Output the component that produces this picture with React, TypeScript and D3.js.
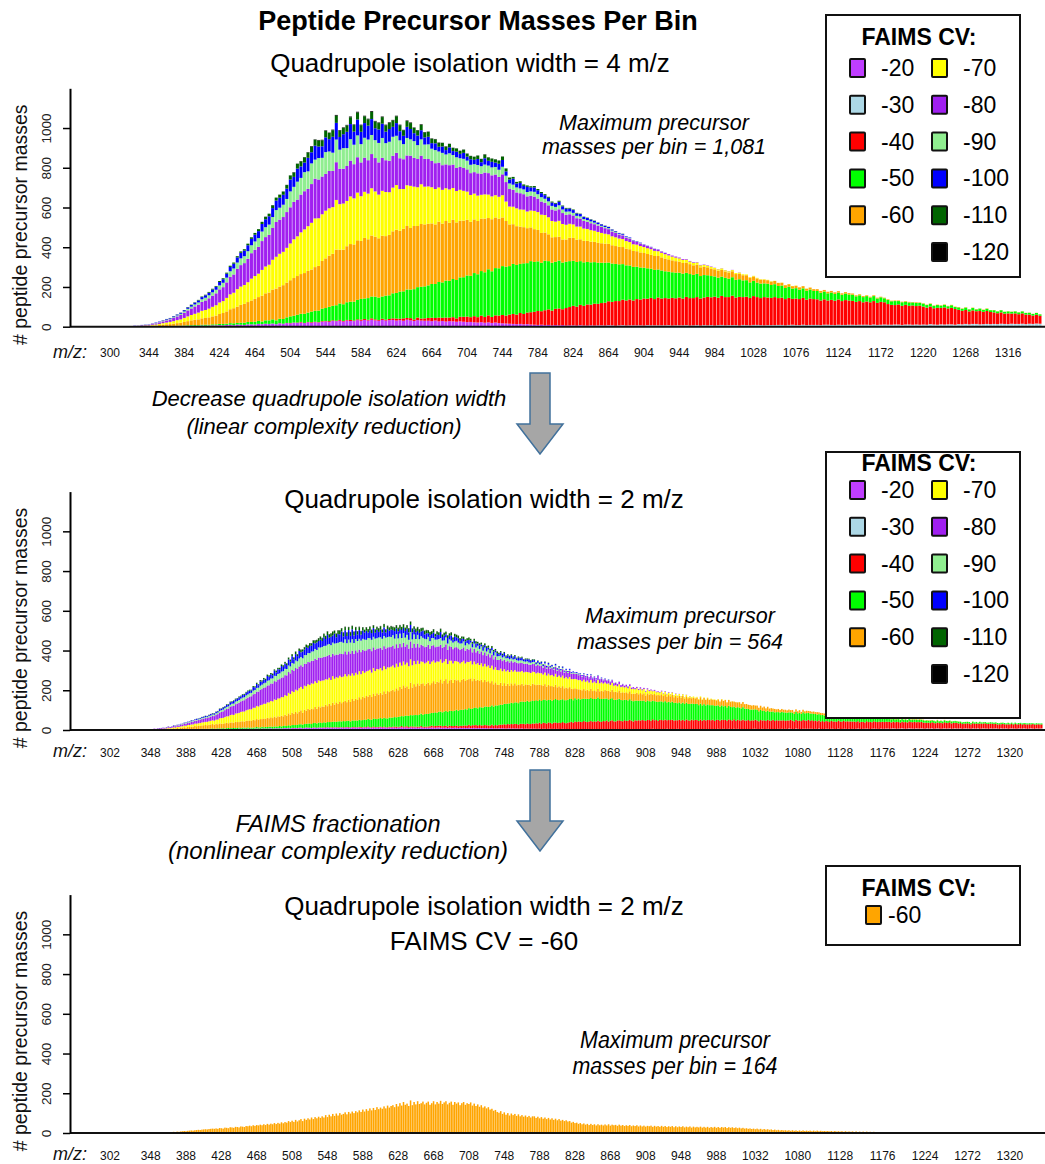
import React, { useEffect, useRef } from 'react'
import * as d3 from 'd3'

const FONT = '"Liberation Sans", Arial, Helvetica, sans-serif'

const cvLabels = ['-20', '-30', '-40', '-50', '-60', '-70', '-80', '-90', '-100', '-110', '-120']
const cvColors = ['#BF3EFF', '#ADD8E6', '#FF0000', '#00FF00', '#FFA500', '#FFFF00', '#A020F0', '#90EE90', '#0000FF', '#006400', '#000000']

// m/z bins (left edge of each bin)
const bins4 = d3.range(300, 1353, 4)
const bins2 = d3.range(302, 1357, 2)
const ticks4 = [300, 344, 384, 424, 464, 504, 544, 584, 624, 664, 704, 744, 784, 824, 864, 904, 944, 984, 1028, 1076, 1124, 1172, 1220, 1268, 1316]
const ticks2 = [302, 348, 388, 428, 468, 508, 548, 588, 628, 668, 708, 748, 788, 828, 868, 908, 948, 988, 1032, 1080, 1128, 1176, 1224, 1272, 1320]
const yTicks = [0, 200, 400, 600, 800, 1000]

// ---------- 4 m/z isolation width, one value per bin ----------
const top20 = [
  0,0,0,0,0,0,0,0,0,1,
  1,1,2,1,2,2,3,2,3,3,
  3,4,4,5,4,5,6,5,6,7,
  7,8,7,9,10,8,11,10,9,12,
  12,11,14,13,15,14,16,13,17,15,
  18,17,20,19,21,18,22,20,23,21,
  25,27,24,29,28,30,26,31,29,28,
  33,30,34,31,35,32,30,34,31,33,
  34,31,33,30,35,32,29,33,31,30,
  30,28,31,27,29,26,28,27,25,27,
  25,23,24,22,21,23,20,22,19,21,
  18,17,16,15,14,13,14,12,13,11,
  10,9,10,8,9,7,8,7,8,6,
  7,6,6,7,5,6,6,5,6,5,
  5,6,5,4,5,5,4,5,4,5,
  4,4,5,3,4,4,3,4,4,3,
  3,4,3,3,2,3,3,2,3,3,
  3,2,3,3,2,3,2,3,2,3,
  2,2,3,2,2,2,1,2,2,2,
  2,1,2,2,1,2,2,1,2,1,
  1,1,2,1,1,1,1,1,1,1,
  1,1,1,0,1,1,1,0,1,1,
  0,1,0,1,0,0,1,0,0,1,
  0,0,1,0,0,0,0,1,0,0,
  0,0,0,0,1,
]
const top30 = [
  0,0,0,0,0,0,0,0,0,0, 0,0,0,0,0,0,0,0,0,0, 0,0,0,0,0,0,0,0,0,0, 0,0,0,0,0,0,0,0,0,0,
  0,0,0,0,0,0,0,0,0,0, 0,0,0,0,0,0,0,0,0,0, 0,0,0,0,0,0,0,0,0,0, 0,0,0,0,0,0,0,0,0,0,
  0,0,0,0,0,0,0,0,0,0, 0,0,0,0,0,0,0,0,0,0, 0,0,0,0,0,0,0,0,0,0, 0,0,0,0,0,0,0,0,0,0,
  0,0,0,0,0,0,0,0,0,0,
  0,1,0,1,1,0,1,1,1,2,
  1,2,2,1,2,3,2,2,3,2,
  3,2,3,4,3,3,4,3,4,3,
  4,3,4,5,4,4,5,4,5,4,
  5,4,5,6,5,5,6,5,4,6,
  6,5,6,7,6,5,7,6,6,7,
  7,6,7,8,7,6,8,7,7,8,
  8,7,8,9,8,7,9,8,8,9,
  9,8,9,10,9,8,10,9,9,10,
  10,9,11,10,9,11,10,10,11,9,
  11,10,12,11,10,12,11,11,12,10,
  13,12,14,12,13,14,12,13,14,13,
  14,13,15,14,13,15,14,14,15,13,
  15,14,16,15,
]
const top40 = [
  0,0,0,0,0,0,0,0,0,0, 0,0,0,0,0,0,0,0,0,0, 0,0,0,0,0,0,0,0,0,0, 0,0,0,0,0,0,0,0,0,0,
  0,0,0,0,0,0,0,0,1,0,
  1,2,1,2,3,1,2,3,2,2,
  3,2,4,3,2,4,3,3,5,3,
  4,6,5,4,7,5,4,6,5,6,
  8,10,7,12,9,11,8,13,10,12,
  14,17,13,19,16,20,18,21,17,23,
  25,28,24,31,27,33,29,35,30,36,
  38,42,40,46,50,48,55,52,58,62,
  65,70,68,75,78,74,82,85,80,88,
  92,98,95,102,99,106,104,110,108,112,
  115,120,118,124,122,128,126,130,125,132,
  130,136,133,138,132,140,135,137,134,139,
  136,140,135,142,138,137,141,136,139,143,
  140,145,138,146,142,141,148,139,144,140,
  143,138,145,140,136,142,139,137,141,135,
  137,132,136,130,134,131,135,128,133,130,
  129,124,128,122,126,123,127,120,125,122,
  120,116,119,113,117,114,118,111,115,112,
  104,100,98,101,96,99,94,97,93,96,
  90,86,88,82,85,83,86,80,83,79,
  72,68,70,65,68,64,67,62,65,61,
  58,55,57,52,54,51,53,49,52,48,
  46,42,44,40,
]
const top50 = [
  0,0,0,0,0,0,0,0,0,0,
  0,0,0,1,0,1,1,1,1,2,
  2,2,3,3,4,3,4,5,4,5,
  5,6,7,6,8,9,8,10,11,12,
  12,14,15,13,17,18,21,19,22,24,
  28,33,34,39,41,46,47,53,55,58,
  63,65,72,73,78,83,84,89,92,95,
  98,104,103,109,110,114,113,112,120,119,
  126,129,137,136,143,144,152,153,160,161,
  164,170,171,179,178,186,185,192,193,198,
  199,207,208,217,216,224,225,232,230,238,
  238,246,246,244,252,250,247,255,249,257,
  251,250,244,249,243,241,237,241,235,233,
  231,227,225,220,219,214,213,209,207,203,
  201,195,193,187,185,179,177,171,169,163,
  161,155,153,147,147,141,141,135,135,129,
  129,125,125,121,121,117,117,113,113,109,
  107,102,101,97,97,93,93,89,89,84,
  83,78,77,73,73,69,69,65,65,61,
  61,56,56,52,52,48,48,45,45,41,
  42,39,39,36,37,34,35,32,33,30,
  31,28,29,26,27,24,25,22,23,20,
  21,18,20,17,18,16,17,15,16,14,
  15,13,14,12,14,11,13,11,13,10,
  12,10,12,10,12,9,12,9,11,9,
  11,9,11,9,10,9,10,9,10,8,
  9,8,9,7,
]
const top60 = [
  0,0,0,0,0,1,0,1,1,1,
  2,2,4,4,6,7,8,10,11,13,
  15,18,21,24,27,29,32,34,37,40,
  44,50,55,62,70,76,82,90,95,100,
  108,115,120,130,136,140,150,160,162,170,
  175,182,190,195,200,205,210,212,220,225,
  240,250,258,262,280,270,275,282,290,288,
  300,292,305,296,307,302,298,306,300,304,
  312,318,306,315,320,310,318,308,316,312,
  310,305,300,304,296,300,292,298,290,286,
  285,280,272,270,268,264,270,258,262,255,
  250,245,230,210,200,195,188,182,176,170,
  165,158,150,142,135,128,124,120,116,112,
  118,115,112,110,108,106,104,102,100,98,
  96,94,92,90,88,86,84,82,80,78,
  76,74,72,70,70,68,66,64,62,60,
  58,56,54,52,50,48,46,44,42,40,
  38,36,35,34,32,31,30,29,28,26,
  25,24,22,21,20,19,18,17,16,15,
  14,14,13,12,12,11,11,10,10,9,
  9,9,8,8,8,8,7,7,7,7,
  6,5,5,5,4,4,4,4,3,3,
  3,3,3,3,3,3,3,2,3,2,
  2,2,2,2,2,2,2,2,2,2,
  2,2,2,1,2,2,1,2,2,1,
  1,1,1,1,1,1,1,1,1,1,
  1,1,1,1,
]
const top70 = [
  0,0,0,0,1,1,1,1,2,2,
  3,3,4,5,6,8,9,11,13,15,
  17,20,24,27,30,34,38,40,44,48,
  52,58,60,68,75,78,88,92,95,100,
  110,115,118,130,135,140,150,160,165,168,
  175,185,195,200,210,220,225,235,245,240,
  235,240,238,235,250,230,232,228,240,232,
  240,225,232,230,238,228,220,226,222,215,
  220,225,210,200,205,212,198,195,200,190,
  188,182,178,172,170,165,168,160,158,155,
  150,142,135,130,128,120,122,118,115,112,
  110,112,98,90,88,90,86,88,84,85,
  92,90,92,88,86,82,78,80,78,74,
  70,68,66,64,62,60,58,56,55,52,
  50,48,45,44,42,40,38,36,34,33,
  32,30,29,28,26,24,23,22,20,19,
  18,16,15,14,13,12,11,10,9,8,
  8,7,7,7,6,6,6,5,5,5,
  4,3,3,3,2,2,2,2,1,1,
  1,1,1,1,1,1,0,1,0,0,
]
const top80 = [
  0,0,0,0,1,1,2,2,2,3,
  3,4,5,6,8,9,11,13,16,19,
  22,26,30,33,37,40,45,48,52,56,
  60,66,70,78,88,92,102,108,110,118,
  128,132,135,145,148,150,160,175,172,175,
  180,182,188,185,190,192,188,195,200,195,
  190,185,188,182,190,178,175,176,180,172,
  178,170,172,168,172,168,162,166,160,158,
  160,162,155,150,150,152,145,142,144,140,
  138,132,130,125,124,120,122,118,116,115,
  115,112,110,108,112,106,110,108,106,104,
  100,105,98,88,85,80,82,78,76,74,
  72,68,66,62,60,58,56,58,55,50,
  48,45,42,40,38,36,35,33,32,30,
  28,26,24,22,20,19,18,17,16,14,
  13,12,11,10,9,8,7,6,6,5,
  5,4,4,3,3,3,2,2,2,2,
  2,1,1,1,1,1,1,0,1,0,
]
const top90 = [
  0,0,0,0,0,0,0,0,1,1,
  1,1,1,2,2,2,3,3,4,5,
  6,7,8,9,10,11,13,14,15,17,
  18,20,22,24,28,30,32,34,35,38,
  40,42,44,48,50,52,55,60,60,62,
  66,80,76,90,84,96,88,104,96,108,
  94,110,98,92,114,96,104,90,108,98,
  110,92,100,104,96,90,98,100,86,96,
  96,86,90,76,88,82,84,70,82,72,
  74,62,66,56,62,50,60,48,54,44,
  46,44,42,40,42,38,40,38,40,38,
  36,38,32,28,26,25,24,24,22,22,
  24,22,22,20,20,18,18,20,18,16,
  14,13,12,11,10,9,9,8,7,6,
  6,5,5,4,4,3,3,3,2,2,
  2,1,1,1,1,0,1,0,0,0,
]
const top100 = [
  0,0,0,0,0,0,0,1,0,1,
  1,1,1,2,2,2,3,3,4,4,
  5,6,7,8,9,10,11,12,13,14,
  15,17,18,20,22,24,26,28,28,30,
  32,34,35,38,40,42,45,48,50,50,
  52,60,50,66,58,48,68,56,70,58,
  58,74,62,80,84,64,70,82,76,66,
  80,62,74,70,80,60,68,72,58,64,
  50,64,46,42,56,52,40,48,46,36,
  38,28,34,24,32,22,30,20,28,22,
  30,20,28,22,30,20,32,24,28,22,
  30,34,22,20,30,20,28,18,26,20,
  22,20,20,18,18,17,16,18,16,15,
  15,14,12,12,10,10,9,8,8,7,
  6,6,5,4,4,4,3,3,2,2,
  2,1,1,1,1,1,0,1,0,0,
]
const top110 = [
  0,0,0,0,0,0,0,0,0,0,
  0,0,0,0,0,1,1,1,1,1,
  1,1,2,2,2,3,3,3,4,4,
  4,5,5,5,6,6,6,7,7,8,
  8,9,10,11,12,13,14,15,15,16,
  18,20,22,24,25,26,27,28,30,30,
  30,32,31,33,36,32,31,32,34,33,
  35,33,34,32,36,34,32,33,32,31,
  32,34,30,28,29,30,27,26,27,25,
  24,22,20,19,18,17,17,16,16,15,
  16,15,16,15,17,16,18,17,16,16,
  16,17,14,10,9,8,8,7,7,6,
  7,6,6,5,5,5,4,5,4,4,
  3,3,3,2,2,2,2,2,1,1,
  1,1,1,1,0,1,
]
const top120 = [
  0,0,0,0,0,0,0,0,0,0, 0,0,0,0,0,0,0,0,0,0, 0,0,0,0,0,0,0,0,0,0, 0,0,0,0,0,0,0,0,0,0,
  0,0,0,0,1,0,1,0,1,1,
  1,1,2,1,2,2,2,3,2,3,
  3,3,2,3,4,3,3,3,4,3,
  4,3,3,3,4,3,3,3,3,3,
  3,3,3,2,3,3,2,2,3,2,
  2,2,2,2,1,2,1,1,1,1,
  1,1,1,1,1,1,2,1,1,1,
  1,1,1,
]

// ---------- 2 m/z isolation width, one value per bin ----------
const mid20 = [
  0,0,0,0,0,0,0,0,0,0,0,0,0,0,0,0,0,0,0,0,
  0,0,0,1,0,1,0,1,1,0,1,1,1,2,1,1,2,1,2,2,
  2,2,3,2,3,2,3,3,4,3,3,4,3,4,4,3,4,4,5,4,
  4,5,4,5,5,4,6,5,5,6,5,6,5,7,6,6,7,6,7,6,
  7,6,7,8,7,6,8,7,8,7,8,9,7,8,9,8,9,8,9,10,
  9,10,8,10,9,11,9,10,11,9,10,12,10,11,10,12,11,10,12,11,
  11,12,10,13,11,12,11,13,12,11,12,13,11,12,13,12,11,13,12,12,
  12,13,11,12,13,12,14,12,11,13,12,13,12,14,12,13,12,11,13,12,
  13,12,11,13,12,14,12,13,12,11,13,12,12,13,11,12,13,12,11,12,
  12,11,13,12,11,12,13,11,12,11,12,10,12,11,10,12,11,10,11,10,
  11,10,10,11,9,10,11,9,10,10,9,10,9,10,8,9,10,8,9,8,
  9,8,9,8,7,8,9,7,8,7,8,7,7,8,6,7,7,6,7,6,
  7,6,6,7,5,6,6,5,6,6,5,6,5,6,5,5,6,5,5,4,
  5,5,4,5,5,4,5,4,5,4,5,4,4,5,4,4,5,4,4,4,
  4,4,3,4,4,3,4,4,3,4,3,4,3,3,4,3,3,4,3,3,
  3,3,3,2,3,3,2,3,3,2,3,3,2,3,2,3,2,3,2,2,
  2,3,2,2,2,3,2,2,2,2,3,2,2,2,2,1,2,2,2,2,
  2,2,1,2,2,2,1,2,2,1,2,2,1,2,1,2,1,2,1,1,
  1,2,1,1,1,2,1,1,1,1,1,1,1,1,1,0,1,1,1,1,
  1,1,1,0,1,1,1,0,1,1,0,1,1,0,1,1,0,1,0,1,
  0,1,0,1,0,0,1,0,0,1,0,0,1,0,0,0,1,0,0,0,
]
const mid30 = [
  0,0,0,0,0,0,0,0,0,0,0,0,0,0,0,0,0,0,0,0, 0,0,0,0,0,0,0,0,0,0,0,0,0,0,0,0,0,0,0,0,
  0,0,0,0,0,0,0,0,0,0,0,0,0,0,0,0,0,0,0,0, 0,0,0,0,0,0,0,0,0,0,0,0,0,0,0,0,0,0,0,0,
  0,0,0,0,0,0,0,0,0,0,0,0,0,0,0,0,0,0,0,0, 0,0,0,0,0,0,0,0,0,0,0,0,0,0,0,0,0,0,0,0,
  0,0,0,0,0,0,0,0,0,0,0,0,0,0,0,0,0,0,0,0, 0,0,0,0,0,0,0,0,0,0,0,0,0,0,0,0,0,0,0,0,
  0,0,0,0,0,0,0,0,0,0,0,0,0,0,0,0,0,0,0,0, 0,0,0,0,0,0,0,0,0,0,0,0,0,0,0,0,0,0,0,0,
  0,0,0,0,0,0,0,0,0,0,0,0,0,0,0,0,0,0,0,0, 0,0,0,0,0,0,0,0,0,0,0,0,0,0,0,0,0,0,0,0,
  0,0,0,0,0,0,0,0,0,0,0,0,0,0,0,0,0,0,0,0, 0,0,0,0,0,0,0,0,0,0,0,0,0,0,0,0,0,0,0,0,
  0,1,0,1,1,0,1,1,1,0,1,1,2,1,1,2,1,1,2,1,
  2,1,2,2,1,2,2,3,2,2,1,2,3,2,2,3,2,2,3,2,
  2,3,2,2,3,2,3,2,2,3,2,3,3,2,3,2,3,3,2,3,
  3,3,2,3,4,3,3,4,3,3,4,3,3,4,3,4,3,3,4,3,
  4,3,4,4,5,4,4,3,4,5,4,4,5,4,4,5,4,4,5,4,
  5,4,5,5,6,5,4,5,6,5,5,4,5,6,5,5,6,5,4,5,
  5,6,5,4,5,6,5,5,6,5,4,5,6,5,5,6,5,5,6,5,
  6,5,6,7,6,5,6,6,7,6,5,6,7,6,6,5,7,6,6,7,
  7,6,7,8,7,6,7,7,8,7,6,7,8,7,7,6,8,7,7,8,
  7,6,8,7,7,8,6,7,8,7,6,7,8,7,7,8,6,7,8,7,
  7,8,6,7,8,7,7,6,8,7,7,8,6,7,8,7,7,6,8,7,
  7,8,7,6,8,7,7,8,6,7,8,7,7,6,8,7,7,8,7,6,
  7,8,7,6,8,7,7,8,
]
const mid40 = [
  0,0,0,0,0,0,0,0,0,0,0,0,0,0,0,0,0,0,0,0, 0,0,0,0,0,0,0,0,0,0,0,0,0,0,0,0,0,0,0,0,
  0,0,0,0,0,0,0,0,0,0,0,0,0,0,0,0,0,0,0,0, 0,0,0,0,0,0,0,0,0,0,0,0,0,0,0,0,0,0,0,0,
  0,0,0,0,0,0,0,0,0,0,0,0,0,0,0,0,0,0,0,0,
  0,1,0,1,1,0,1,2,1,0,1,1,2,1,0,1,2,1,1,2,
  1,2,3,1,2,2,3,1,2,3,2,1,3,2,2,3,1,2,3,2,
  2,3,4,2,3,3,4,2,3,5,3,2,4,3,3,4,2,3,4,3,
  4,5,6,3,5,6,4,5,7,4,5,6,5,4,6,5,7,4,6,5,
  6,8,9,7,10,8,9,11,7,9,10,8,11,9,10,8,12,9,10,11,
  11,13,12,15,12,14,13,16,12,15,14,13,16,14,15,13,17,14,16,15,
  17,19,18,21,20,22,19,23,21,24,22,20,24,23,25,22,26,24,23,27,
  25,28,27,30,26,31,29,28,32,30,27,31,33,29,32,30,34,31,29,33,
  34,36,33,38,35,39,37,36,40,38,35,39,41,37,40,38,42,39,37,41,
  40,43,39,42,44,41,38,43,45,42,40,44,41,43,46,42,39,44,42,45,
  43,46,44,42,47,45,43,48,44,46,42,47,45,44,48,43,46,45,47,44,
  45,43,47,44,46,42,48,45,43,47,44,46,45,42,48,44,46,43,47,45,
  44,47,43,46,45,42,48,44,46,43,47,45,44,48,42,46,45,43,47,44,
  43,45,41,44,42,46,43,40,45,42,44,41,45,43,42,46,41,44,42,43,
  42,44,40,43,41,45,42,39,44,41,43,40,44,42,41,45,40,43,41,42,
  39,41,37,40,36,39,38,35,40,37,39,36,40,38,37,40,36,39,37,38,
  36,38,34,37,33,36,35,32,37,34,36,33,37,35,34,37,33,36,34,35,
  34,35,31,34,32,35,33,30,34,32,34,31,35,33,32,35,31,33,32,33,
  30,31,28,30,28,31,29,27,30,28,30,27,31,29,28,31,27,29,28,29,
  26,27,24,26,24,27,25,23,26,24,26,23,27,25,24,27,23,25,24,25,
  23,24,21,23,21,24,22,20,23,21,23,20,24,22,21,24,20,22,21,22,
  22,20,23,21,20,22,21,20,
]
const mid50 = [
  0,0,0,0,0,0,0,0,0,0,0,0,0,0,0,0,0,0,0,0,
  0,0,0,0,0,0,0,0,0,0,0,0,0,1,0,0,1,0,1,0,
  1,0,1,1,2,1,1,2,2,1,2,2,3,2,2,3,2,3,3,2,
  3,3,4,3,4,3,4,5,4,4,5,4,5,5,4,6,5,5,6,5,
  5,6,6,7,6,7,8,7,8,8,9,8,9,10,9,10,11,10,11,12,
  11,13,13,14,15,14,16,17,17,18,19,18,20,21,20,22,23,22,24,25,
  23,25,24,26,27,26,28,28,27,29,30,29,31,30,31,32,31,33,33,34,
  33,35,34,36,37,36,38,39,38,40,41,40,42,43,42,44,45,44,46,47,
  46,48,47,50,51,50,53,54,53,56,57,56,58,59,58,61,62,61,63,64,
  63,65,64,67,68,67,70,71,70,73,74,73,75,76,75,78,79,78,80,81,
  80,82,81,84,85,84,87,88,87,90,91,90,93,94,93,96,97,96,99,100,
  99,101,100,103,104,103,106,107,106,108,109,108,111,112,111,113,114,112,115,116,
  114,116,113,117,115,114,118,116,113,117,115,114,118,116,113,117,115,114,116,115,
  117,115,113,117,114,116,112,116,113,115,117,113,116,114,112,115,117,113,115,112,
  114,111,112,109,111,108,109,106,108,105,106,103,105,102,104,101,102,99,101,98,
  100,97,99,96,98,95,97,94,96,93,95,92,94,91,93,90,92,89,91,88,
  89,86,88,85,87,84,85,82,84,81,83,80,82,79,80,77,79,76,78,75,
  76,73,75,72,73,70,72,69,70,67,69,66,67,64,66,63,64,61,63,60,
  59,56,57,54,55,52,53,50,51,48,49,46,47,44,45,42,43,41,42,40,
  43,40,42,39,41,38,40,37,40,37,39,36,39,36,38,35,37,34,36,33,
  34,32,33,31,32,30,31,29,30,28,29,27,28,27,28,26,27,25,26,24,
  24,22,23,21,22,20,21,19,20,18,19,18,19,17,18,16,17,16,17,15,
  16,14,16,14,15,13,15,13,14,13,14,12,14,12,14,12,13,12,13,11,
  12,10,12,10,11,10,11,9,11,9,10,9,10,9,10,8,10,8,9,8,
  9,7,8,7,8,7,8,6,8,7,7,6,8,6,7,6,7,6,7,6,
  7,6,7,5,7,6,6,5,7,5,6,5,6,5,6,5,6,5,6,5,
  5,6,4,5,6,4,5,5,
]
// -60 V at 2 m/z: also the only series of the bottom panel
const mid60 = [
  0,0,0,0,0,0,0,0,0,0,0,0,0,0,1,0,0,1,0,1,
  1,1,2,1,2,2,3,2,3,3,4,3,4,5,4,5,6,5,7,6,
  8,9,10,9,11,12,13,12,14,15,16,15,17,18,19,18,20,21,22,21,
  23,21,25,24,22,27,26,24,29,28,26,31,30,28,33,32,30,35,34,37,
  34,39,36,40,38,42,39,44,40,46,42,47,44,50,45,51,47,54,49,55,
  52,60,55,62,56,66,58,64,70,60,72,66,74,68,78,70,80,74,82,76,
  84,78,90,80,92,84,96,86,98,88,100,92,96,104,94,106,98,108,100,110,
  104,114,106,118,108,120,112,124,114,126,116,130,120,128,122,134,124,138,128,136,
  140,130,146,134,150,138,156,142,148,136,164,140,156,144,160,146,150,158,144,152,
  158,142,150,160,144,156,148,162,146,154,160,144,152,158,142,156,148,154,140,150,
  156,142,150,146,154,138,148,136,144,132,140,128,134,124,130,118,122,112,116,106,
  102,110,96,104,92,100,88,98,90,96,86,94,84,90,82,88,80,86,78,84,
  84,76,82,74,80,72,78,70,76,68,74,66,72,64,70,62,66,60,64,58,
  60,52,56,50,52,46,50,44,48,42,46,40,46,40,44,38,44,39,42,38,
  43,38,44,37,42,39,41,36,42,37,40,35,39,36,40,34,38,35,39,33,
  38,33,37,32,36,34,37,31,36,32,35,31,36,31,35,30,34,31,35,29,
  34,29,33,30,34,28,32,29,33,27,32,28,31,28,32,27,31,27,31,26,
  30,27,31,26,30,26,30,27,30,25,29,26,29,25,28,24,27,23,26,22,
  24,21,23,20,22,19,22,18,21,17,20,17,19,16,18,15,17,14,16,13,
  15,13,14,12,14,11,14,11,13,10,13,10,13,10,12,10,12,9,12,9,
  12,9,11,9,10,9,10,8,10,7,10,7,9,7,9,6,9,6,8,6,
  8,5,8,5,7,5,7,4,7,4,6,4,6,4,5,4,5,3,5,3,
  5,2,5,2,4,2,4,2,4,1,4,1,3,2,3,1,3,1,3,1,
  3,1,2,1,3,1,2,1,2,1,2,0,2,1,1,1,2,0,1,1,
  1,1,1,0,1,1,0,1,1,0,1,0,1,0,1,0,0,1,0,0,
  0,1,0,0,1,0,0,0,1,0,
]
const mid70 = [
  0,0,0,0,0,0,0,0,0,0,0,0,0,0,0,1,0,0,1,0,
  0,1,1,1,1,2,1,2,2,3,2,3,3,4,4,5,5,6,6,7,
  7,8,8,9,9,10,11,11,12,13,13,14,15,15,16,17,18,18,19,20,
  22,24,26,28,30,31,33,35,37,39,40,42,44,46,48,49,51,53,55,57,
  58,61,63,66,67,70,72,74,76,78,80,82,84,86,88,90,92,94,96,98,
  100,103,105,108,110,112,115,117,118,120,121,123,124,126,127,128,129,130,131,132,
  130,133,129,134,131,128,133,130,127,132,129,131,128,133,130,127,132,129,126,130,
  128,131,126,129,127,124,130,126,123,128,125,122,127,124,121,126,123,120,124,121,
  122,119,124,118,121,116,120,115,119,114,117,112,116,111,114,109,113,108,111,107,
  109,106,108,104,106,102,104,100,103,98,101,97,99,95,98,93,96,92,94,90,
  91,88,90,86,88,84,86,82,84,80,82,79,81,77,79,76,78,74,76,73,
  74,71,73,70,72,68,70,67,69,66,68,65,67,64,66,63,65,62,64,61,
  62,59,61,58,60,56,58,55,57,54,56,53,55,52,54,51,53,50,52,49,
  51,48,50,47,49,46,48,45,47,44,46,43,45,42,44,41,43,40,42,39,
  38,36,37,34,35,32,33,30,31,28,29,27,28,25,26,24,25,22,23,21,
  22,20,21,19,19,17,18,16,16,15,15,13,14,12,13,11,12,10,11,9,
  10,8,9,7,8,6,7,5,6,5,5,4,4,3,4,3,3,2,3,2,
  3,2,2,2,2,1,2,1,1,1,1,1,1,0,1,0,1,0,0,0,
]
const mid80 = [
  0,0,0,0,0,0,0,0,0,0,0,0,0,1,0,0,1,0,1,1,
  1,1,1,2,2,2,2,3,3,4,4,4,5,5,6,6,7,7,8,8,
  9,9,10,11,11,12,13,13,14,15,16,16,17,18,19,19,20,21,22,23,
  25,27,29,31,33,35,37,39,41,43,45,47,49,51,53,55,57,59,61,63,
  66,68,70,72,75,77,79,81,83,85,86,88,90,92,93,95,97,98,100,101,
  103,105,104,107,106,109,108,110,109,112,111,113,112,114,113,115,114,116,115,117,
  116,118,114,119,115,117,113,118,114,116,112,117,113,115,111,116,112,114,110,113,
  112,109,111,107,110,106,109,105,108,104,107,103,106,102,105,101,104,100,102,99,
  100,97,98,95,96,93,94,91,92,89,90,87,88,85,86,83,84,81,82,79,
  81,78,80,77,78,75,77,74,76,73,74,71,73,70,72,69,71,68,69,66,
  67,64,66,63,64,61,63,60,61,58,60,57,58,55,57,54,55,52,54,51,
  52,49,51,48,49,46,48,45,46,43,45,42,44,41,43,40,42,39,41,38,
  40,37,39,36,38,35,37,34,36,33,35,32,34,31,33,30,32,29,31,28,
  30,27,29,26,28,25,27,24,26,23,25,22,23,20,22,19,21,18,19,16,
  17,15,16,14,14,12,13,11,12,10,11,9,10,8,9,7,8,6,7,5,
  7,5,6,4,6,4,5,3,5,3,4,3,4,2,3,2,3,1,2,1,
  2,1,1,1,1,0,1,0,1,0,
]
const mid90 = [
  0,0,0,0,0,0,0,0,0,0,0,0,0,0,0,0,0,0,0,0,
  0,0,0,0,0,0,0,1,0,1,0,1,1,1,1,1,2,1,2,2,
  2,2,2,3,3,3,3,4,4,4,4,5,5,5,5,6,6,6,7,7,
  7,8,8,9,9,10,10,11,11,12,12,13,13,14,14,15,15,16,16,17,
  17,18,19,19,20,21,22,22,23,24,25,25,26,27,28,28,29,30,31,32,
  32,33,35,35,37,38,39,40,41,42,43,44,45,46,47,48,49,50,51,52,
  53,55,54,57,55,58,56,59,57,60,58,61,57,60,56,59,55,58,54,57,
  57,54,58,55,57,53,56,54,57,53,56,52,55,53,54,51,55,52,53,50,
  52,49,51,48,50,46,49,45,48,44,47,43,46,42,44,41,43,40,42,38,
  40,37,39,36,38,35,37,34,36,33,35,32,34,31,33,30,32,29,31,28,
  30,27,29,26,28,25,27,24,26,23,25,22,24,21,23,20,22,19,21,18,
  19,17,18,16,17,15,16,14,15,14,14,13,14,12,13,11,12,11,11,10,
  11,9,10,9,10,8,9,7,9,7,8,7,8,6,7,6,7,5,6,5,
  6,5,5,4,5,4,5,3,4,3,4,3,4,2,3,2,3,2,2,2,
  2,1,2,1,1,1,1,0,1,0,1,0,0,1,
]
const mid100 = [
  0,0,0,0,0,0,0,0,0,0,0,0,0,0,0,0,0,0,0,0,
  0,0,0,0,0,0,0,0,1,0,1,0,1,1,0,1,2,1,1,2,
  2,1,3,2,3,2,4,3,3,5,3,4,5,4,6,4,5,7,5,6,
  7,6,9,7,10,8,11,9,12,10,13,11,12,14,11,15,12,14,16,13,
  12,18,14,20,12,22,16,20,14,24,18,22,16,26,18,24,20,28,22,26,
  20,30,24,34,22,32,26,38,24,34,28,40,26,36,30,42,28,38,32,40,
  30,44,34,48,32,42,36,50,30,44,38,52,32,46,36,48,34,50,38,44,
  32,44,30,42,36,46,28,40,34,44,30,42,28,38,32,44,26,40,30,38,
  26,38,28,36,24,40,26,34,30,38,36,36,26,34,20,32,24,36,22,30,
  18,30,20,28,16,26,20,30,18,24,16,28,18,26,14,24,18,22,14,24,
  12,20,14,22,10,18,14,20,12,18,10,20,12,18,10,16,12,20,10,16,
  10,16,12,18,8,14,12,16,10,14,8,16,10,14,8,12,10,16,8,12,
  10,8,9,7,9,6,8,7,8,6,7,5,7,6,6,5,6,4,5,4,
  5,4,5,3,4,4,3,4,3,3,4,2,3,3,2,3,2,2,3,1,
  2,1,2,1,1,1,0,1,1,0,1,0,0,1,
]
const mid110 = [
  0,0,0,0,0,0,0,0,0,0,0,0,0,0,0,0,0,0,0,0,
  0,0,0,0,0,0,0,0,0,0,0,0,0,0,0,0,0,1,0,0,
  0,1,0,1,0,1,1,0,1,1,1,1,1,2,1,1,2,1,2,2,
  2,2,3,2,3,2,3,3,4,3,3,4,3,4,4,3,5,4,4,5,
  4,5,5,6,5,6,5,7,6,6,7,6,7,6,8,7,7,8,7,8,
  8,9,8,10,9,11,9,10,12,10,11,12,11,13,11,12,14,12,13,14,
  14,16,15,17,14,16,18,15,17,16,19,15,17,16,18,14,17,16,18,15,
  16,14,17,15,13,16,14,17,15,13,16,14,15,17,13,16,14,15,13,16,
  15,17,14,16,18,15,17,14,16,19,15,17,14,16,18,15,16,14,17,15,
  14,16,13,15,12,14,13,15,12,14,11,13,12,14,11,13,12,11,13,10,
  11,9,10,12,8,10,9,11,8,10,9,7,9,8,10,7,9,8,7,8,
  7,6,7,5,6,5,6,4,5,5,4,5,4,5,3,4,4,3,4,3,
  3,2,3,2,2,3,2,1,2,2,1,2,1,1,2,1,1,1,0,1,
]
const mid120 = [
  0,0,0,0,0,0,0,0,0,0,0,0,0,0,0,0,0,0,0,0, 0,0,0,0,0,0,0,0,0,0,0,0,0,0,0,0,0,0,0,0,
  0,0,0,0,0,0,0,0,0,0,0,0,0,0,0,0,0,0,0,0, 0,0,0,0,0,0,0,0,0,0,0,0,0,0,0,0,0,0,0,0,
  0,0,0,0,0,0,1,0,0,1,0,0,1,0,1,0,1,0,1,1,
  1,1,2,1,1,2,1,2,2,1,2,1,2,2,1,2,2,1,2,2,
  2,2,1,2,3,2,2,1,2,3,2,2,3,2,1,2,3,2,2,2,
  2,3,2,2,1,2,3,2,2,2,1,2,3,2,2,1,2,2,3,2,
  2,2,3,2,2,1,2,2,3,2,2,2,1,2,2,3,2,1,2,2,
  2,1,2,2,1,2,1,2,1,1,2,1,1,2,1,1,1,2,1,1,
  1,1,0,1,1,0,1,1,0,1,0,1,0,1,0,0,1,0,0,1,
]

const topSeries = [top20, top30, top40, top50, top60, top70, top80, top90, top100, top110, top120]
const midSeries = [mid20, mid30, mid40, mid50, mid60, mid70, mid80, mid90, mid100, mid110, mid120]

const PX_PER_MZ = 0.884
const FIRST_CENTER = 110
const AXIS_X = 70
const PLOT_H = 238.4

type PanelProps = {
  bins: number[]
  ticks: number[]
  series: number[][]
  colors: string[]
  zeroY: number
  labelGap: number
}

function StackPanel({ bins, ticks, series, colors, zeroY, labelGap }: PanelProps) {
  const xAxisRef = useRef<SVGGElement>(null)
  const yAxisRef = useRef<SVGGElement>(null)

  const step = PX_PER_MZ * (bins[1] - bins[0])
  const x0 = FIRST_CENTER - step / 2
  const x = d3.scaleBand<number>()
    .domain(bins)
    .range([x0, x0 + step * bins.length])
    .paddingInner(0.14)
    .paddingOuter(0.07)
  const y = d3.scaleLinear().domain([0, 1200]).range([zeroY, zeroY - PLOT_H])

  const keys = series.map((_, j) => 's' + j)
  const rows = bins.map((_, i) => {
    const r: Record<string, number> = {}
    series.forEach((s, j) => { r[keys[j]] = s[i] ?? 0 })
    return r
  })
  const stacked = d3.stack<Record<string, number>>().keys(keys)(rows)

  useEffect(() => {
    const gy = d3.select(yAxisRef.current!)
    gy.call(d3.axisLeft(y).tickValues(yTicks).tickSize(7).tickSizeOuter(0).tickFormat(d3.format('d')) as any)
    gy.attr('font-family', FONT)
    gy.select('.domain').attr('stroke-width', 2)
    gy.selectAll('.tick line').attr('stroke-width', 1.5)
    gy.selectAll('.tick text')
      .attr('x', null).attr('dy', null)
      .attr('transform', 'translate(-19,0) rotate(-90)')
      .attr('text-anchor', 'middle')
      .attr('font-size', 13.5)
      .attr('fill', '#222')

    const gx = d3.select(xAxisRef.current!)
    gx.call(d3.axisBottom(x).tickValues(ticks).tickSize(0).tickPadding(0) as any)
    gx.attr('font-family', FONT)
    gx.select('.domain').remove()
    gx.selectAll('.tick text').attr('y', 0).attr('dy', null).attr('font-size', 12).attr('fill', '#111')
  })

  const bw = x.bandwidth()
  return (
    <g>
      {stacked.map((layer, j) => (
        <g key={j} fill={colors[j]}>
          {layer.map((d, i) =>
            d[1] > d[0] ? (
              <rect key={i} x={x(bins[i])} y={y(d[1])} width={bw} height={y(d[0]) - y(d[1])} />
            ) : null
          )}
        </g>
      ))}
      <line x1={AXIS_X} x2={1045} y1={zeroY} y2={zeroY} stroke="#111" strokeWidth={2} />
      <g ref={yAxisRef} transform={`translate(${AXIS_X},0)`} />
      <g ref={xAxisRef} transform={`translate(0,${zeroY + labelGap})`} />
      <text x={53} y={zeroY + labelGap + 0.5} fontSize={18} fontStyle="italic" fill="#111">m/z:</text>
      <text transform={`translate(27,${zeroY - 102}) rotate(-90)`} textAnchor="middle" fontSize={19.5} fill="#111">
        # peptide precursor masses
      </text>
    </g>
  )
}

type LegendProps = { top: number; height: number; titleY: number; rowY: number; rowGap: number; cols: string[][]; colX?: number[] }

function Legend({ top, height, titleY, rowY, rowGap, cols, colX = [850, 932] }: LegendProps) {
  return (
    <g>
      <rect x={826} y={top} width={194} height={height} fill="#fff" stroke="#111" strokeWidth={2} />
      <text x={919} y={titleY} textAnchor="middle" fontSize={23} fontWeight="bold">FAIMS CV:</text>
      {cols.map((col, c) =>
        col.map((cv, r) => {
          const cy = rowY + r * rowGap
          const color = cvColors[cvLabels.indexOf(cv)]
          return (
            <g key={cv}>
              <rect x={colX[c]} y={cy - 9} width={15} height={18} fill={color} stroke="#111" strokeWidth={2} rx={1} />
              <text x={colX[c] + 31} y={cy + 8} fontSize={23}>{cv}</text>
            </g>
          )
        })
      )}
    </g>
  )
}

function Arrow({ top }: { top: number }) {
  const p = `M530,${top} H550 V${top + 51} H563 L540,${top + 81} L517,${top + 51} H530 Z`
  return <path d={p} fill="#A6A6A6" stroke="#41719C" strokeWidth={1.5} />
}

const legendCols = [['-20', '-30', '-40', '-50', '-60'], ['-70', '-80', '-90', '-100', '-110', '-120']]

export default function App() {
  return (
    <div style={{ position: 'absolute', left: 0, top: 0 }}>
      <svg width={1045} height={1164} style={{ display: 'block', background: '#fff' }} fontFamily={FONT}>
        {/* panel 1 */}
        <text x={478} y={30} textAnchor="middle" fontSize={27} fontWeight="bold">Peptide Precursor Masses Per Bin</text>
        <text x={470} y={72} textAnchor="middle" fontSize={26}>Quadrupole isolation width = 4 m/z</text>
        <StackPanel bins={bins4} ticks={ticks4} series={topSeries} colors={cvColors} zeroY={326.7} labelGap={30.3} />
        <text x={654} y={130} textAnchor="middle" fontSize={21.5} fontStyle="italic">Maximum precursor</text>
        <text x={654} y={154} textAnchor="middle" fontSize={21.5} fontStyle="italic">masses per bin = 1,081</text>
        <Legend top={15} height={262} titleY={45} rowY={68} rowGap={36.8} cols={legendCols} />

        {/* transition 1 */}
        <Arrow top={373} />
        <text x={329} y={406} textAnchor="middle" fontSize={22} fontStyle="italic">Decrease quadrupole isolation width</text>
        <text x={324} y={434} textAnchor="middle" fontSize={22} fontStyle="italic">(linear complexity reduction)</text>

        {/* panel 2 */}
        <text x={484} y={508} textAnchor="middle" fontSize={26}>Quadrupole isolation width = 2 m/z</text>
        <StackPanel bins={bins2} ticks={ticks2} series={midSeries} colors={cvColors} zeroY={730} labelGap={26.5} />
        <text x={680} y={623} textAnchor="middle" fontSize={21.5} fontStyle="italic">Maximum precursor</text>
        <text x={680} y={649} textAnchor="middle" fontSize={21.5} fontStyle="italic">masses per bin = 564</text>
        <Legend top={452} height={266} titleY={471} rowY={490} rowGap={36.8} cols={legendCols} />

        {/* transition 2 */}
        <Arrow top={770} />
        <text x={338} y={832} textAnchor="middle" fontSize={23} fontStyle="italic" textLength={205} lengthAdjust="spacingAndGlyphs">FAIMS fractionation</text>
        <text x={338} y={859} textAnchor="middle" fontSize={23} fontStyle="italic" textLength={340} lengthAdjust="spacingAndGlyphs">(nonlinear complexity reduction)</text>

        {/* panel 3 */}
        <text x={484} y={915} textAnchor="middle" fontSize={26}>Quadrupole isolation width = 2 m/z</text>
        <text x={484} y={950} textAnchor="middle" fontSize={26}>FAIMS CV = -60</text>
        <StackPanel bins={bins2} ticks={ticks2} series={[mid60]} colors={[cvColors[4]]} zeroY={1133} labelGap={26.5} />
        <text x={675} y={1048} textAnchor="middle" fontSize={23} fontStyle="italic" textLength={190} lengthAdjust="spacingAndGlyphs">Maximum precursor</text>
        <text x={675} y={1074} textAnchor="middle" fontSize={23} fontStyle="italic" textLength={205} lengthAdjust="spacingAndGlyphs">masses per bin = 164</text>
        <g>
          <rect x={826} y={866} width={194} height={79} fill="#fff" stroke="#111" strokeWidth={2} />
          <text x={919} y={896} textAnchor="middle" fontSize={23} fontWeight="bold">FAIMS CV:</text>
          <rect x={866} y={906} width={15} height={18} fill={cvColors[4]} stroke="#111" strokeWidth={2} rx={1} />
          <text x={888} y={923} fontSize={23}>-60</text>
        </g>
      </svg>
    </div>
  )
}
